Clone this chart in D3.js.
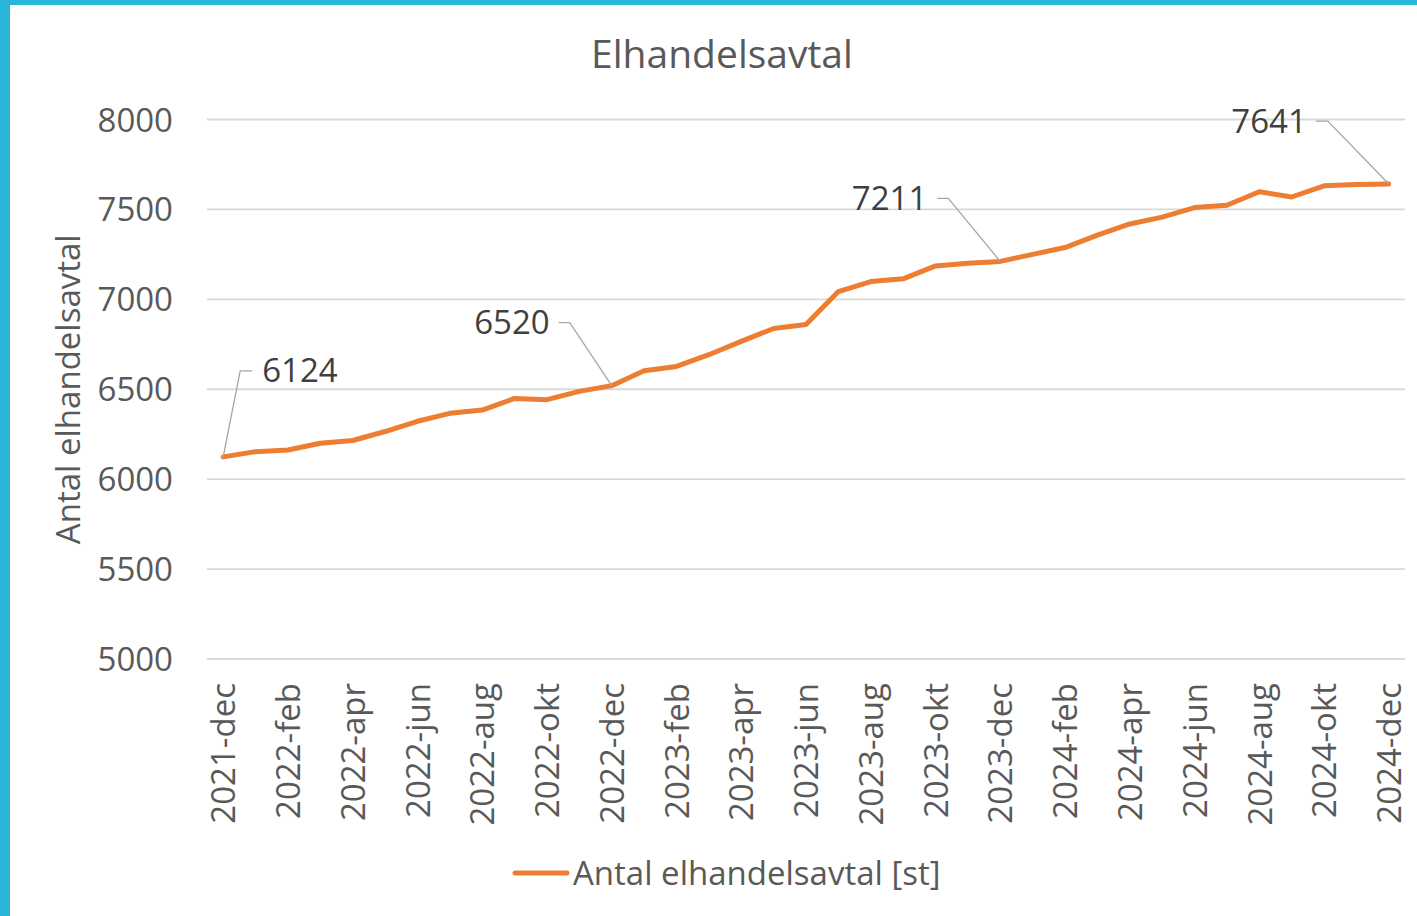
<!DOCTYPE html>
<html>
<head>
<meta charset="utf-8">
<script src="https://cdn.jsdelivr.net/npm/d3@7/dist/d3.min.js"></script>
<style>
  html, body { margin: 0; padding: 0; background: #fff; }
  svg { display: block; }
  text { font-family: "Open Sans", "Noto Sans", sans-serif; }
</style>
</head>
<body>
<svg id="chart" width="1417" height="916"></svg>
<script>
// ---- Data ----
const categories = [
  "2021-dec",
  "2022-jan","2022-feb","2022-mar","2022-apr","2022-maj","2022-jun",
  "2022-jul","2022-aug","2022-sep","2022-okt","2022-nov","2022-dec",
  "2023-jan","2023-feb","2023-mar","2023-apr","2023-maj","2023-jun",
  "2023-jul","2023-aug","2023-sep","2023-okt","2023-nov","2023-dec",
  "2024-jan","2024-feb","2024-mar","2024-apr","2024-maj","2024-jun",
  "2024-jul","2024-aug","2024-sep","2024-okt","2024-nov","2024-dec"
];
const values = [
  6124,
  6153, 6162, 6200, 6215, 6265, 6322,
  6366, 6384, 6449, 6442, 6488, 6520,
  6603, 6627, 6692, 6766, 6838, 6860,
  7043, 7099, 7114, 7186, 7200, 7211,
  7250, 7288, 7357, 7419, 7457, 7510,
  7523, 7598, 7569, 7631, 7639, 7641
];
const yTicks = [5000, 5500, 6000, 6500, 7000, 7500, 8000];
const labelledIdx = [0, 12, 24, 36];
const seriesName = "Antal elhandelsavtal [st]";
const yTitle = "Antal elhandelsavtal";
const chartTitle = "Elhandelsavtal";

// ---- Layout ----
const svg = d3.select("#chart");
const W = 1417, H = 916;
const plot = { left: 207, right: 1405, top: 119.5, bottom: 659 };
const FS = "33px";

svg.append("rect").attr("width", W).attr("height", H).attr("fill", "#29B5D8");
svg.append("rect").attr("x", 10).attr("y", 5).attr("width", W - 10).attr("height", H - 5).attr("fill", "#fff");

const x = d3.scaleBand().domain(categories).range([plot.left, plot.right]);
const y = d3.scaleLinear().domain([5000, 8000]).range([plot.bottom, plot.top]);
const cx = c => x(c) + x.bandwidth() / 2;

// gridlines
svg.append("g").selectAll("line").data(yTicks).join("line")
  .attr("x1", plot.left).attr("x2", plot.right)
  .attr("y1", d => y(d)).attr("y2", d => y(d))
  .attr("stroke", "#D9D9D9").attr("stroke-width", 1.8);

// y axis
const yAxis = d3.axisLeft(y).tickValues(yTicks).tickSize(0).tickPadding(0).tickFormat(d3.format("d"));
const gy = svg.append("g").attr("transform", `translate(173,0)`).call(yAxis);
gy.select(".domain").remove();
gy.selectAll("text").attr("fill", "#595959").style("font-size", FS)
  .attr("dy", "0.35em").attr("font-family", "'Open Sans', sans-serif");

// x axis
const xAxis = d3.axisBottom(x).tickSize(0).tickPadding(0)
  .tickFormat((d, i) => i % 2 === 0 ? d : "");
const gx = svg.append("g").attr("transform", `translate(0,${plot.bottom})`).call(xAxis);
gx.select(".domain").remove();
gx.selectAll("text")
  .attr("fill", "#595959").style("font-size", FS)
  .attr("font-family", "'Open Sans', sans-serif")
  .attr("text-anchor", "end")
  .attr("transform", "rotate(-90)")
  .attr("x", -24).attr("y", 0).attr("dy", "0.37em").attr("dx", 0);

// y title
svg.append("text")
  .attr("transform", `translate(68,${(plot.top + plot.bottom) / 2}) rotate(-90)`)
  .attr("text-anchor", "middle").attr("dy", "0.35em")
  .attr("fill", "#595959").style("font-size", FS).text(yTitle);

// title
svg.append("text").attr("x", 722).attr("y", 54).attr("dy", "0.35em")
  .attr("text-anchor", "middle").attr("fill", "#595959").style("font-size", "39px")
  .text(chartTitle);

// line
const line = d3.line().x((d, i) => cx(categories[i])).y(d => y(d));
svg.append("path").datum(values).attr("d", line)
  .attr("fill", "none").attr("stroke", "#ED7D31").attr("stroke-width", 5)
  .attr("stroke-linejoin", "round").attr("stroke-linecap", "round");

// data labels with leader lines
const labelOffsets = {
  0:  { elbow: [17, -86], end: [29, -86], tx: 39, anchor: "start" },
  12: { elbow: [-42, -63], end: [-53, -63], tx: -62, anchor: "end" },
  24: { elbow: [-52, -63], end: [-63, -63], tx: -73, anchor: "end" },
  36: { elbow: [-61, -63], end: [-73, -63], tx: -82, anchor: "end" }
};
labelledIdx.forEach(i => {
  const px = cx(categories[i]), py = y(values[i]);
  const o = labelOffsets[i];
  svg.append("polyline")
    .attr("points", [[px, py], [px + o.elbow[0], py + o.elbow[1]], [px + o.end[0], py + o.end[1]]].map(p => p.join(",")).join(" "))
    .attr("fill", "none").attr("stroke", "#A6A6A6").attr("stroke-width", 1.3);
  svg.append("text").attr("x", px + o.tx).attr("y", py + o.elbow[1]).attr("dy", "0.35em")
    .attr("text-anchor", o.anchor).attr("fill", "#404040").style("font-size", FS)
    .text(values[i]);
});

// legend
const lg = svg.append("g").attr("transform", "translate(513,873)");
lg.append("line").attr("x1", 2).attr("x2", 54).attr("y1", 0).attr("y2", 0)
  .attr("stroke", "#ED7D31").attr("stroke-width", 5).attr("stroke-linecap", "round");
lg.append("text").attr("x", 60).attr("y", 0).attr("dy", "0.35em")
  .attr("fill", "#595959").style("font-size", FS).text(seriesName);
</script>
</body>
</html>
